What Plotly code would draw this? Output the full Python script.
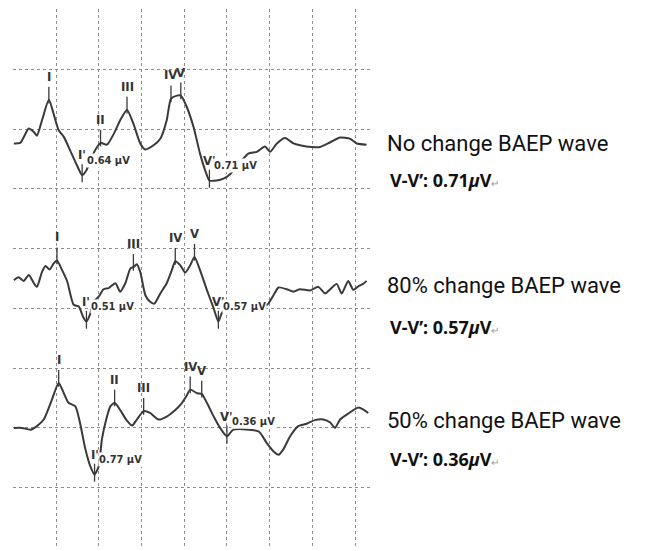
import numpy as np
import plotly.graph_objects as go

# ---------------- data (time in ms, amplitude in grid divisions) ----------------
t1 = [0.01, 0.16, 0.36, 0.48, 0.55, 0.67, 0.83, 0.94, 1.06, 1.18, 1.33, 1.49, 1.61, 1.71,
      1.80, 1.96, 2.04, 2.19, 2.35, 2.50, 2.66, 2.81, 2.97, 3.09, 3.28, 3.44, 3.59, 3.69,
      3.83, 3.92, 4.06, 4.22, 4.37, 4.49, 4.59, 4.76, 4.92, 5.08, 5.50, 5.70, 5.89, 6.01,
      6.17, 6.36, 6.56, 6.71, 6.99, 7.18, 7.42, 7.65, 7.88, 8.04, 8.27]
v1 = [6.76, 6.77, 7.01, 6.95, 6.89, 7.15, 7.49, 7.26, 6.98, 6.87, 6.64, 6.39, 6.23, 6.31,
      6.48, 6.70, 6.77, 6.74, 6.92, 7.15, 7.32, 7.09, 6.76, 6.66, 6.73, 6.84, 7.15, 7.51,
      7.56, 7.56, 7.37, 7.03, 6.59, 6.31, 6.14, 6.14, 6.17, 6.25, 6.59, 6.62, 6.71, 6.62,
      6.76, 6.85, 6.76, 6.73, 6.70, 6.70, 6.78, 6.86, 6.84, 6.76, 6.74]

t2 = [0.01, 0.12, 0.24, 0.36, 0.48, 0.55, 0.67, 0.75, 0.85, 0.94, 1.02, 1.14, 1.26, 1.41,
      1.53, 1.63, 1.71, 1.79, 1.88, 2.00, 2.11, 2.23, 2.39, 2.50, 2.62, 2.74, 2.81, 2.89,
      2.97, 3.09, 3.20, 3.30, 3.44, 3.59, 3.71, 3.79, 3.91, 4.02, 4.14, 4.24, 4.37, 4.53,
      4.69, 4.80, 4.88, 5.00, 5.70, 5.86, 5.97, 6.09, 6.21, 6.40, 6.56, 6.71, 6.95, 7.14,
      7.30, 7.45, 7.57, 7.69, 7.84, 7.96, 8.08, 8.19, 8.27]
v2 = [4.47, 4.52, 4.46, 4.56, 4.42, 4.36, 4.61, 4.71, 4.65, 4.75, 4.80, 4.64, 4.45, 4.06,
      4.03, 3.86, 3.78, 3.89, 4.11, 4.20, 4.32, 4.34, 4.42, 4.28, 4.42, 4.67, 4.69, 4.74,
      4.61, 4.22, 4.11, 4.08, 4.25, 4.42, 4.64, 4.79, 4.72, 4.60, 4.72, 4.86, 4.64, 4.31,
      4.00, 3.78, 3.92, 4.00, 4.03, 4.03, 4.08, 4.22, 4.35, 4.32, 4.28, 4.32, 4.30, 4.36,
      4.25, 4.34, 4.41, 4.25, 4.46, 4.31, 4.37, 4.41, 4.46]

t3 = [0.01, 0.20, 0.40, 0.55, 0.71, 0.90, 1.06, 1.18, 1.29, 1.45, 1.57, 1.68, 1.80, 1.90,
      2.00, 2.07, 2.18, 2.27, 2.37, 2.50, 2.64, 2.78, 2.89, 3.05, 3.20, 3.40, 3.59, 3.79,
      3.95, 4.05, 4.14, 4.30, 4.41, 4.53, 4.69, 4.84, 5.00, 5.15, 5.74, 5.93, 6.09, 6.21,
      6.32, 6.48, 6.67, 6.87, 7.06, 7.26, 7.42, 7.53, 7.65, 7.84, 8.08, 8.19, 8.31]
v3 = [2.00, 2.00, 1.97, 2.03, 2.14, 2.47, 2.75, 2.58, 2.42, 2.36, 2.05, 1.66, 1.36, 1.22,
      1.36, 1.80, 2.16, 2.36, 2.42, 2.30, 2.14, 2.04, 2.14, 2.28, 2.25, 2.14, 2.19, 2.30,
      2.42, 2.53, 2.64, 2.58, 2.57, 2.42, 2.19, 2.00, 1.86, 1.97, 1.94, 1.75, 1.61, 1.55,
      1.64, 1.86, 2.03, 2.07, 2.13, 2.14, 2.09, 2.00, 2.14, 2.24, 2.34, 2.31, 2.25]

# peak / trough labels
peak_names1 = ["I", "II", "III", "IV", "V"]
peak_times1 = [0.83, 2.04, 2.66, 3.69, 3.92]
trough_names1 = ["I'", "V'"]
trough_times1 = [1.61, 4.59]
trough_values1 = ["0.64 µV", "0.71 µV"]

peak_names2 = ["I", "III", "IV", "V"]
peak_times2 = [1.02, 2.81, 3.79, 4.24]
trough_names2 = ["I'", "V'"]
trough_times2 = [1.71, 4.80]
trough_values2 = ["0.51 µV", "0.57 µV"]

peak_names3 = ["I", "II", "III", "IV", "V"]
peak_times3 = [1.06, 2.37, 3.05, 4.14, 4.41]
trough_names3 = ["I'", "V'"]
trough_times3 = [1.90, 5.00]
trough_values3 = ["0.77 µV", "0.36 µV"]

wave_titles = ["No change BAEP wave", "80% change BAEP wave", "50% change BAEP wave"]
vv_values = ["0.71", "0.57", "0.36"]

grid_x = [0, 1, 2, 3, 4, 5, 6, 7, 8]
grid_y = [0, 1, 2, 3, 4, 5, 6, 7, 8, 9]

# ---------------- figure ----------------
W, H = 647, 551
ML, MR, MT, MB = 13, 275, 9, 3
PW, PH = W - ML - MR, H - MT - MB

LINE_COLOR = "#3a3a3a"
MARK_FONT = "Liberation Sans Narrow, DejaVu Sans Condensed, Arial Narrow, sans-serif"

fig = go.Figure()
waves = [(t1, v1), (t2, v2), (t3, v3)]
for t, v in waves:
    fig.add_trace(go.Scatter(x=t, y=v, mode="lines",
                             line=dict(color=LINE_COLOR, width=2, shape="spline", smoothing=0.6),
                             hoverinfo="skip", showlegend=False))

annotations = []
shapes = []

def add_marks(t, v, pnames, ptimes, tnames, ttimes, tvals):
    for name, pt in zip(pnames, ptimes):
        y = float(np.interp(pt, t, v))
        shapes.append(dict(type="line", xref="x", yref="y", x0=pt, x1=pt,
                           y0=y - 0.06, y1=y + 0.22,
                           line=dict(color=LINE_COLOR, width=1.3)))
        annotations.append(dict(x=pt, y=y + 0.22, xref="x", yref="y", text="<b>%s</b>" % name,
                                showarrow=False, yanchor="bottom", xanchor="center", yshift=1,
                                font=dict(family=MARK_FONT, size=13, color="#333")))
    for name, tt, val in zip(tnames, ttimes, tvals):
        y = float(np.interp(tt, t, v))
        shapes.append(dict(type="line", xref="x", yref="y", x0=tt, x1=tt,
                           y0=y - 0.12, y1=y + 0.18,
                           line=dict(color=LINE_COLOR, width=1.3)))
        annotations.append(dict(x=tt, y=y + 0.18, xref="x", yref="y", text="<b>%s</b>" % name,
                                showarrow=False, yanchor="bottom", xanchor="center",
                                font=dict(family=MARK_FONT, size=13, color="#333")))
        annotations.append(dict(x=tt + 0.09, y=y + 0.25, xref="x", yref="y", text="<b>%s</b>" % val,
                                showarrow=False, yanchor="middle", xanchor="left",
                                bgcolor="white", borderpad=0,
                                font=dict(family=MARK_FONT, size=11, color="#333")))

add_marks(t1, v1, peak_names1, peak_times1, trough_names1, trough_times1, trough_values1)
add_marks(t2, v2, peak_names2, peak_times2, trough_names2, trough_times2, trough_values2)
add_marks(t3, v3, peak_names3, peak_times3, trough_names3, trough_times3, trough_values3)

def px_x(px):
    return (px - ML) / PW

def px_y(py):
    return (H - MB - py) / PH

title_rows = [143, 285, 420]
vv_rows = [180, 327, 459]
for title, ty, vv, vy in zip(wave_titles, title_rows, vv_values, vv_rows):
    annotations.append(dict(x=px_x(385), y=px_y(ty), xref="paper", yref="paper", text=title,
                            showarrow=False, xanchor="left", yanchor="middle",
                            font=dict(family="Roboto, Noto Sans, sans-serif", size=22, color="#111")))
    annotations.append(dict(x=px_x(388), y=px_y(vy), xref="paper", yref="paper",
                            text="<b>V-V\u2019: %s<i>\u00b5</i>V</b><span style='font-size:10px;color:#999'>\u21b5</span>" % vv,
                            showarrow=False, xanchor="left", yanchor="middle",
                            font=dict(family="Noto Sans, Open Sans, sans-serif", size=18, color="#111")))

fig.update_layout(
    width=W, height=H,
    margin=dict(l=ML, r=MR, t=MT, b=MB, pad=0),
    paper_bgcolor="white", plot_bgcolor="white",
    showlegend=False,
    annotations=annotations,
    shapes=shapes,
    xaxis=dict(range=[-0.01, PW / 42.75], tickvals=grid_x, showticklabels=False, ticks="",
               showgrid=True, gridcolor="#8c8c8c", gridwidth=1, griddash="dot",
               zeroline=False, showline=False, fixedrange=True),
    yaxis=dict(range=[-0.01, 9.01], tickvals=grid_y, showticklabels=False, ticks="",
               showgrid=True, gridcolor="#8c8c8c", gridwidth=1, griddash="dot",
               zeroline=False, showline=False, fixedrange=True),
)

fig.write_html("out.html", config={"displayModeBar": False},
               post_script="document.body.style.margin='0';document.body.style.overflow='hidden';")
